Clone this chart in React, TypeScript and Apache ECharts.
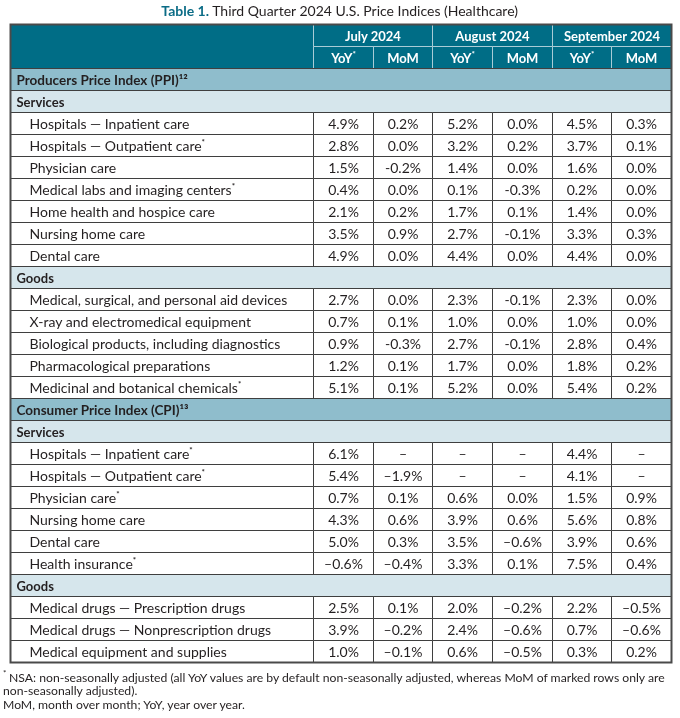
import React, { useEffect, useRef } from "react";
import * as echarts from "echarts";

const months = ["July 2024", "August 2024", "September 2024"];
const subHeads = ["YoY*", "MoM"];

const ppiTitle = "Producers Price Index (PPI)¹²";
const cpiTitle = "Consumer Price Index (CPI)¹³";

const ppiServicesLabels = [
  "Hospitals — Inpatient care",
  "Hospitals — Outpatient care*",
  "Physician care",
  "Medical labs and imaging centers*",
  "Home health and hospice care",
  "Nursing home care",
  "Dental care",
];
const ppiServicesValues = [
  [4.9, 0.2, 5.2, 0.0, 4.5, 0.3],
  [2.8, 0.0, 3.2, 0.2, 3.7, 0.1],
  [1.5, -0.2, 1.4, 0.0, 1.6, 0.0],
  [0.4, 0.0, 0.1, -0.3, 0.2, 0.0],
  [2.1, 0.2, 1.7, 0.1, 1.4, 0.0],
  [3.5, 0.9, 2.7, -0.1, 3.3, 0.3],
  [4.9, 0.0, 4.4, 0.0, 4.4, 0.0],
];
const ppiGoodsLabels = [
  "Medical, surgical, and personal aid devices",
  "X-ray and electromedical equipment",
  "Biological products, including diagnostics",
  "Pharmacological preparations",
  "Medicinal and botanical chemicals*",
];
const ppiGoodsValues = [
  [2.7, 0.0, 2.3, -0.1, 2.3, 0.0],
  [0.7, 0.1, 1.0, 0.0, 1.0, 0.0],
  [0.9, -0.3, 2.7, -0.1, 2.8, 0.4],
  [1.2, 0.1, 1.7, 0.0, 1.8, 0.2],
  [5.1, 0.1, 5.2, 0.0, 5.4, 0.2],
];
const cpiServicesLabels = [
  "Hospitals — Inpatient care*",
  "Hospitals — Outpatient care*",
  "Physician care*",
  "Nursing home care",
  "Dental care",
  "Health insurance*",
];
const cpiServicesValues = [
  [6.1, null, null, null, 4.4, null],
  [5.4, -1.9, null, null, 4.1, null],
  [0.7, 0.1, 0.6, 0.0, 1.5, 0.9],
  [4.3, 0.6, 3.9, 0.6, 5.6, 0.8],
  [5.0, 0.3, 3.5, -0.6, 3.9, 0.6],
  [-0.6, -0.4, 3.3, 0.1, 7.5, 0.4],
];
const cpiGoodsLabels = [
  "Medical drugs — Prescription drugs",
  "Medical drugs — Nonprescription drugs",
  "Medical equipment and supplies",
];
const cpiGoodsValues = [
  [2.5, 0.1, 2.0, -0.2, 2.2, -0.5],
  [3.9, -0.2, 2.4, -0.6, 0.7, -0.6],
  [1.0, -0.1, 0.6, -0.5, 0.3, 0.2],
];

const footnotes = [
  "NSA: non-seasonally adjusted (all YoY values are by default non-seasonally adjusted, whereas MoM of marked rows only are",
  "non-seasonally adjusted).",
  "MoM, month over month; YoY, year over year.",
];

// layout (column edges in px, table spans rows 0..29)
const COL_EDGES = [10, 313, 373, 432, 492, 552, 611, 671];
const N_ROWS = 29;
const FONT = "Lato";
const C_HEAD = "#006d86";
const C_SECTION = "#8fbdcc";
const C_SUB = "#d6e6ec";
const C_TEXT = "#231f20";
const C_LINE = "#3f3f3f";
const C_HEAD_LINE = "#a9ccd6";

type Cell = { x0: number; x1: number; y0: number; y1: number; kind: string; text: string };

function fmt(v: number | null, minus: string) {
  if (v === null) return "–";
  const s = Math.abs(v).toFixed(1) + "%";
  return v < 0 ? minus + s : s;
}

function buildCells(): Cell[] {
  const cells: Cell[] = [];
  const L = COL_EDGES[0];
  const R = COL_EDGES[COL_EDGES.length - 1];
  cells.push({ x0: L, x1: COL_EDGES[1], y0: 0, y1: 2, kind: "head", text: "" });
  months.forEach((m, i) => {
    cells.push({ x0: COL_EDGES[1 + i * 2], x1: COL_EDGES[3 + i * 2], y0: 0, y1: 1, kind: "head", text: m });
    subHeads.forEach((s, j) => {
      cells.push({ x0: COL_EDGES[1 + i * 2 + j], x1: COL_EDGES[2 + i * 2 + j], y0: 1, y1: 2, kind: "head", text: s });
    });
  });
  let r = 2;
  const addData = (labels: string[], values: (number | null)[][], minus: string) => {
    labels.forEach((lab, i) => {
      cells.push({ x0: L, x1: COL_EDGES[1], y0: r, y1: r + 1, kind: "label", text: lab });
      values[i].forEach((v, j) => {
        cells.push({ x0: COL_EDGES[1 + j], x1: COL_EDGES[2 + j], y0: r, y1: r + 1, kind: "val", text: fmt(v, minus) });
      });
      r++;
    });
  };
  const addRow = (kind: string, text: string) => {
    cells.push({ x0: L, x1: R, y0: r, y1: r + 1, kind, text });
    r++;
  };
  addRow("section", ppiTitle);
  addRow("sub", "Services");
  addData(ppiServicesLabels, ppiServicesValues, "-");
  addRow("sub", "Goods");
  addData(ppiGoodsLabels, ppiGoodsValues, "-");
  addRow("section", cpiTitle);
  addRow("sub", "Services");
  addData(cpiServicesLabels, cpiServicesValues, "–");
  addRow("sub", "Goods");
  addData(cpiGoodsLabels, cpiGoodsValues, "–");
  cells.push({ x0: L, x1: R, y0: 0, y1: N_ROWS, kind: "frame", text: "" });
  return cells;
}

function richText(t: string) {
  if (t.endsWith("*")) return "{a|" + t.slice(0, -1) + "}{s|*}";
  return "{a|" + t + "}";
}

export default function App() {
  const ref = useRef<HTMLDivElement>(null);
  useEffect(() => {
    if (!ref.current) return;
    const chart = echarts.init(ref.current, null, { renderer: "svg" });
    const cells = buildCells();

    const renderItem = (params: any, api: any) => {
      const c = cells[params.dataIndex];
      const p0 = api.coord([c.x0, c.y0]);
      const p1 = api.coord([c.x1, c.y1]);
      const x = Math.round(p0[0]) + 0.5;
      const y = Math.round(Math.min(p0[1], p1[1])) + 0.5;
      const w = Math.round(p1[0]) - Math.round(p0[0]);
      const h = Math.round(Math.abs(p1[1] - p0[1]));
      const children: any[] = [];
      if (c.kind === "frame") {
        children.push({
          type: "rect",
          shape: { x, y, width: w, height: h },
          style: { fill: "none", stroke: "#4a4a4a", lineWidth: 2 },
        });
        return { type: "group", children };
      }
      const isHead = c.kind === "head";
      const fill =
        isHead ? C_HEAD : c.kind === "section" ? C_SECTION : c.kind === "sub" ? C_SUB : "#ffffff";
      children.push({
        type: "rect",
        shape: { x, y, width: w, height: h },
        style: { fill, stroke: isHead ? C_HEAD_LINE : C_LINE, lineWidth: 1 },
      });
      if (c.text) {
        const bold = isHead || c.kind === "section" || c.kind === "sub";
        const color = isHead ? "#ffffff" : C_TEXT;
        const centered = isHead || c.kind === "val";
        const size = isHead ? 13 : c.kind === "section" ? 13.5 : c.kind === "sub" ? 13 : 14;
        const tx = centered ? x + w / 2 : x + (c.kind === "label" ? 19 : 6);
        children.push({
          type: "text",
          x: tx,
          y: y + h / 2,
          style: {
            text: richText(c.text),
            align: centered ? "center" : "left",
            verticalAlign: "middle",
            rich: {
              a: { fontFamily: FONT, fontSize: size, fontWeight: bold ? "bold" : "normal", fill: color, lineHeight: 16 },
              s: { fontFamily: FONT, fontSize: 8, fontWeight: "bold", fill: color, verticalAlign: "top", lineHeight: 16 },
            },
          },
        });
      }
      return { type: "group", children };
    };

    const footY = [677, 690.5, 704];
    const footGraphics = footnotes.map((t, i) => ({
      type: "text",
      x: i === 0 ? 9 : 3,
      y: footY[i],
      style: {
        text: t,
        fontFamily: FONT,
        fontSize: 12.2,
        fill: C_TEXT,
        verticalAlign: "middle",
        align: "left",
      },
    }));

    chart.setOption({
      animation: false,
      grid: { left: COL_EDGES[0], top: 24, width: COL_EDGES[7] - COL_EDGES[0], height: 638 },
      xAxis: { type: "value", min: COL_EDGES[0], max: COL_EDGES[7], show: false },
      yAxis: { type: "value", min: 0, max: N_ROWS, inverse: true, show: false },
      series: [
        {
          type: "custom",
          clip: false,
          renderItem,
          encode: { x: [0, 1], y: [2, 3] },
          data: cells.map((c) => [c.x0, c.x1, c.y0, c.y1]),
        },
      ],
      graphic: [
        {
          type: "text",
          left: "center",
          top: 3,
          style: {
            text: "{b|Table 1.}{r| Third Quarter 2024 U.S. Price Indices (Healthcare)}",
            rich: {
              b: { fontFamily: FONT, fontSize: 14, fontWeight: "bold", fill: "#0b6c86" },
              r: { fontFamily: FONT, fontSize: 14, fill: C_TEXT },
            },
          },
        },
        {
          type: "text",
          x: 3,
          y: 673,
          style: { text: "*", fontFamily: FONT, fontSize: 8, fill: C_TEXT, verticalAlign: "middle", align: "left" },
        },
        ...footGraphics,
      ],
    });
    return () => chart.dispose();
  }, []);
  return <div ref={ref} style={{ position: "fixed", left: 0, top: 0, width: 680, height: 718 }} />;
}
